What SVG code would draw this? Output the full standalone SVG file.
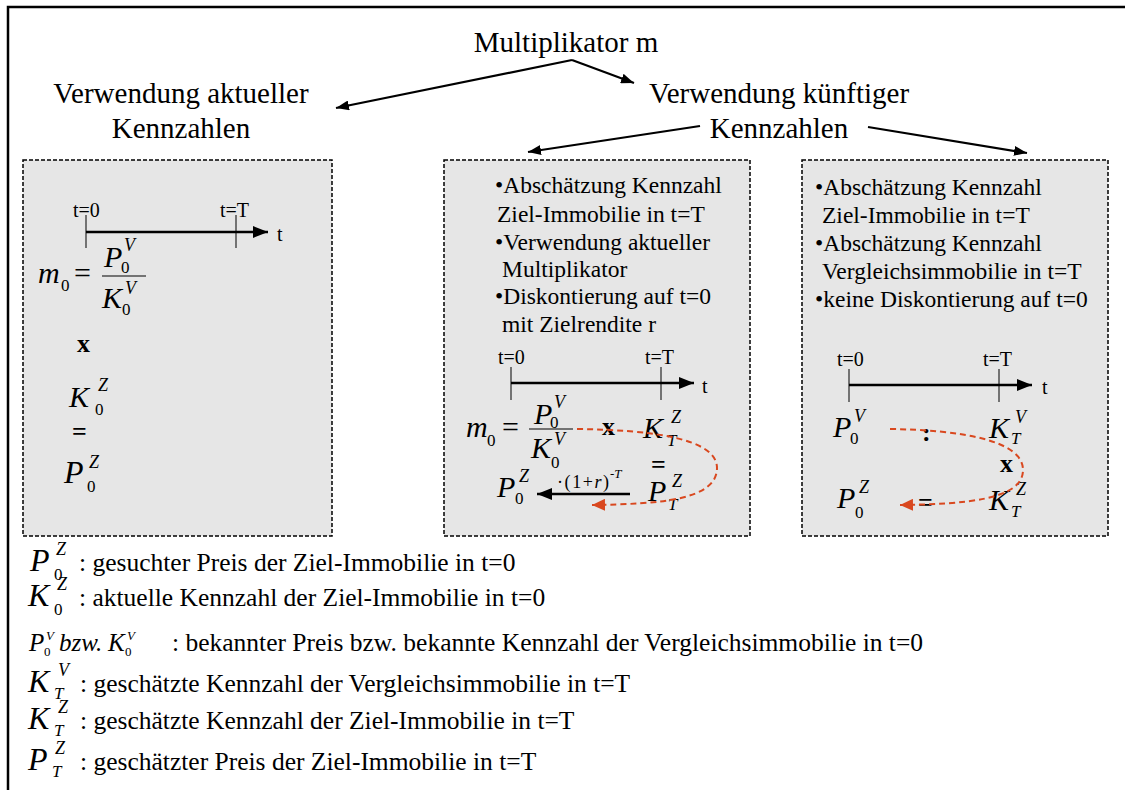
<svg xmlns="http://www.w3.org/2000/svg" width="1125" height="790" viewBox="0 0 1125 790">
<defs>
<marker id="ah" markerUnits="userSpaceOnUse" markerWidth="14" markerHeight="10" refX="13" refY="5" orient="auto"><path d="M0,0 L13,5 L0,10 z" fill="#000"/></marker>
<marker id="ax" markerUnits="userSpaceOnUse" markerWidth="16" markerHeight="12" refX="15" refY="6" orient="auto"><path d="M0,0 L15,6 L0,12 z" fill="#000"/></marker>
<marker id="ar" markerUnits="userSpaceOnUse" markerWidth="14" markerHeight="12" refX="13" refY="6" orient="auto"><path d="M0,0 L13,6 L0,12 z" fill="#d9481f"/></marker>
<style>
text{font-family:"Liberation Serif","Times New Roman",serif;fill:#000}
.h{font-size:29px}
.b{font-size:23.5px}
.al{font-size:20px}
.lg{font-size:25.5px}
.mi{font-size:30px;font-style:italic}
.ml{font-size:32px;font-style:italic}
.ms{font-size:25px;font-style:italic}
.sp{font-size:18px;font-style:italic}
.sb{font-size:17px}
.sbi{font-size:17px;font-style:italic}
.ss{font-size:13px;font-style:italic}
.ssu{font-size:13px}
.op{font-size:30px}
.bx{font-size:26px;font-weight:bold}
.box{fill:#e6e6e6;stroke:#000;stroke-width:1.5;stroke-dasharray:4 2}
.axl{stroke:#000;stroke-width:2.5;fill:none}
.tk{stroke:#000;stroke-width:1;fill:none}
.con{stroke:#000;stroke-width:2.2;fill:none}
.red{stroke:#d9481f;stroke-width:2;stroke-dasharray:6 4;fill:none}
</style>
</defs>
<rect width="1125" height="790" fill="#fff"/>
<path d="M8,790 V7 H1125" fill="none" stroke="#000" stroke-width="2.5"/>

<g id="root">
<text class="h" x="566" y="52" text-anchor="middle">Multiplikator m</text>
</g>
<g id="aktuell">
<text class="h" x="181" y="103" text-anchor="middle">Verwendung aktueller</text>
<text class="h" x="181" y="138" text-anchor="middle">Kennzahlen</text>
</g>
<g id="kuenftig">
<text class="h" x="779" y="103" text-anchor="middle">Verwendung künftiger</text>
<text class="h" x="779" y="138" text-anchor="middle">Kennzahlen</text>
</g>

<g id="connectors">
<path class="con" d="M572,60 L336,108" marker-end="url(#ah)"/>
<path class="con" d="M572,60 L634,83" marker-end="url(#ah)"/>
<path class="con" d="M700,126 L528,152" marker-end="url(#ah)"/>
<path class="con" d="M868,127 L1027,153" marker-end="url(#ah)"/>
</g>

<g id="box1">
<rect class="box" x="23" y="160" width="309" height="376"/>
<text class="al" x="73" y="217">t=0</text>
<text class="al" x="220" y="217">t=T</text>
<line class="tk" x1="86" y1="215" x2="86" y2="248"/>
<line class="tk" x1="236" y1="215" x2="236" y2="248"/>
<line class="axl" x1="86" y1="232" x2="268" y2="232" marker-end="url(#ax)"/>
<text class="al" x="277" y="241">t</text>
<text class="mi" x="38" y="283">m</text><text class="sb" x="61" y="291">0</text>
<text class="op" x="74" y="283">=</text>
<text class="mi" x="104" y="267">P</text><text class="sp" x="124" y="251">V</text><text class="sb" x="121" y="273">0</text>
<line x1="102" y1="276" x2="146" y2="276" stroke="#000" stroke-width="1"/>
<text class="mi" x="102" y="308">K</text><text class="sp" x="125" y="294">V</text><text class="sb" x="122" y="315">0</text>
<text class="bx" x="77" y="352">x</text>
<text class="mi" x="69" y="407">K</text><text class="sp" x="98" y="391">Z</text><text class="sb" x="95" y="415">0</text>
<text class="bx" x="72" y="440">=</text>
<text class="ml" x="64" y="483">P</text><text class="sp" x="89" y="468">Z</text><text class="sb" x="87" y="492">0</text>
</g>

<g id="box2">
<rect class="box" x="444" y="160" width="306" height="376"/>
<text class="b" x="495" y="193">•Abschätzung Kennzahl</text>
<text class="b" x="497" y="222">Ziel-Immobilie in t=T</text>
<text class="b" x="495" y="250">•Verwendung aktueller</text>
<text class="b" x="502" y="277">Multiplikator</text>
<text class="b" x="495" y="304">•Diskontierung auf t=0</text>
<text class="b" x="502" y="332">mit Zielrendite r</text>
<text class="al" x="498" y="364">t=0</text>
<text class="al" x="645" y="364">t=T</text>
<line class="tk" x1="511" y1="367" x2="511" y2="400"/>
<line class="tk" x1="661" y1="367" x2="661" y2="400"/>
<line class="axl" x1="511" y1="383" x2="694" y2="383" marker-end="url(#ax)"/>
<text class="al" x="702" y="393">t</text>
<text class="mi" x="466" y="437">m</text><text class="sb" x="487" y="446">0</text>
<text class="op" x="502" y="437">=</text>
<text class="mi" x="534" y="424">P</text><text class="sp" x="554" y="408">V</text><text class="sb" x="550" y="428">0</text>
<line x1="529" y1="429" x2="573" y2="429" stroke="#000" stroke-width="1"/>
<text class="mi" x="531" y="458">K</text><text class="sp" x="554" y="445">V</text><text class="sb" x="551" y="468">0</text>
<text class="bx" x="602" y="435">x</text>
<text class="mi" x="643" y="438">K</text><text class="sp" x="671" y="423">Z</text><text class="sbi" x="667" y="446">T</text>
<text class="bx" x="651" y="473">=</text>
<text class="mi" x="648" y="501">P</text><text class="sp" x="672" y="487">Z</text><text class="sbi" x="668" y="510">T</text>
<text class="mi" x="497" y="497">P</text><text class="sp" x="519" y="482">Z</text><text class="sb" x="515" y="504">0</text>
<line class="axl" x1="630" y1="494" x2="537" y2="494" marker-end="url(#ax)"/>
<text x="557" y="488" font-size="18px" textLength="52" lengthAdjust="spacing">·(1+<tspan font-style="italic">r</tspan>)</text>
<text class="ss" x="610" y="478">-T</text>
<path class="red" d="M577,429 C650,430 717,438 717,468 C717,500 660,504 592,505" marker-end="url(#ar)"/>
</g>

<g id="box3">
<rect class="box" x="802" y="160" width="306" height="376"/>
<text class="b" x="815" y="195">•Abschätzung Kennzahl</text>
<text class="b" x="822" y="223">Ziel-Immobilie in t=T</text>
<text class="b" x="815" y="251">•Abschätzung Kennzahl</text>
<text class="b" x="822" y="279">Vergleichsimmobilie in t=T</text>
<text class="b" x="815" y="307">•keine Diskontierung auf t=0</text>
<text class="al" x="837" y="366">t=0</text>
<text class="al" x="983" y="366">t=T</text>
<line class="tk" x1="849" y1="369" x2="849" y2="402"/>
<line class="tk" x1="999" y1="369" x2="999" y2="402"/>
<line class="axl" x1="849" y1="385" x2="1032" y2="385" marker-end="url(#ax)"/>
<text class="al" x="1042" y="394">t</text>
<text class="mi" x="833" y="437">P</text><text class="sp" x="854" y="422">V</text><text class="sb" x="850" y="444">0</text>
<text class="bx" x="922" y="441">:</text>
<text class="mi" x="989" y="438">K</text><text class="sp" x="1015" y="423">V</text><text class="sbi" x="1011" y="444">T</text>
<text class="bx" x="1000" y="472">x</text>
<text class="mi" x="837" y="508">P</text><text class="sp" x="859" y="493">Z</text><text class="sb" x="855" y="518">0</text>
<text class="bx" x="918" y="511">=</text>
<text class="mi" x="989" y="510">K</text><text class="sp" x="1016" y="495">Z</text><text class="sbi" x="1011" y="517">T</text>
<path class="red" d="M890,429 C960,430 1023,440 1023,470 C1023,500 965,504 900,505" marker-end="url(#ar)"/>
</g>

<g id="legend">
<text class="ml" x="30" y="571">P</text><text class="sp" x="56" y="555">Z</text><text class="sb" x="54" y="580">0</text>
<text class="lg" x="79" y="571">: gesuchter Preis der Ziel-Immobilie in t=0</text>
<text class="ml" x="28" y="606">K</text><text class="sp" x="57" y="590">Z</text><text class="sb" x="54" y="615">0</text>
<text class="lg" x="79" y="606">: aktuelle Kennzahl der Ziel-Immobilie in t=0</text>
<text class="ms" x="29" y="651">P</text><text class="ss" x="46" y="640">V</text><text class="ssu" x="44" y="656">0</text>
<text class="ms" x="59" y="651">bzw.</text>
<text class="ms" x="108" y="651">K</text><text class="ss" x="127" y="640">V</text><text class="ssu" x="125" y="656">0</text>
<text class="lg" x="172" y="651">: bekannter Preis bzw. bekannte Kennzahl der Vergleichsimmobilie in t=0</text>
<text class="ml" x="28" y="692">K</text><text class="sp" x="58" y="676">V</text><text class="sbi" x="54" y="699">T</text>
<text class="lg" x="80" y="692">: geschätzte Kennzahl der Vergleichsimmobilie in t=T</text>
<text class="ml" x="28" y="729">K</text><text class="sp" x="58" y="713">Z</text><text class="sbi" x="54" y="736">T</text>
<text class="lg" x="80" y="729">: geschätzte Kennzahl der Ziel-Immobilie in t=T</text>
<text class="ml" x="28" y="770">P</text><text class="sp" x="55" y="754">Z</text><text class="sbi" x="52" y="777">T</text>
<text class="lg" x="80" y="770">: geschätzter Preis der Ziel-Immobilie in t=T</text>
</g>
</svg>
